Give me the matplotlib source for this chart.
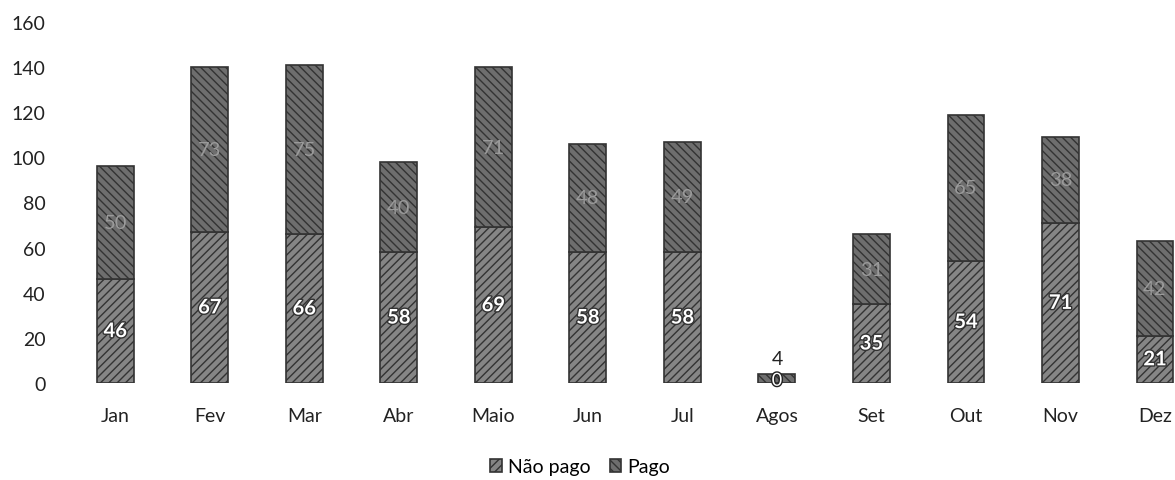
import matplotlib
matplotlib.use("Agg")
import matplotlib.pyplot as plt
import matplotlib.patheffects as pe
import numpy as np

months = ["Jan", "Fev", "Mar", "Abr", "Maio", "Jun", "Jul", "Agos", "Set", "Out", "Nov", "Dez"]
nao_pago = [46, 67, 66, 58, 69, 58, 58, 0, 35, 54, 71, 21]
pago = [50, 73, 75, 40, 71, 48, 49, 4, 31, 65, 38, 42]
yticks = [0, 20, 40, 60, 80, 100, 120, 140, 160]

plt.rcParams['font.family'] = ['Lato', 'DejaVu Sans']

fig = plt.figure(figsize=(11.75, 4.81), dpi=100)
ax = fig.add_axes([68/1175, 97/481, (1175-68)/1175, 361/481])

x = np.arange(len(months))
w = 0.39
c_np = "#858585"
c_p = "#6e6e6e"
b1 = ax.bar(x, nao_pago, w, color=c_np, edgecolor="#333333", linewidth=1.2,
            hatch="////", label="Não pago")
b2 = ax.bar(x, pago, w, bottom=nao_pago, color=c_p, edgecolor="#333333", linewidth=1.2,
            hatch="\\\\\\\\", label="Pago")

for i in range(len(months)):
    if months[i] == "Agos":
        ax.text(x[i], nao_pago[i] + pago[i] + 7, str(pago[i]), ha="center", va="center",
                fontsize=14, color="#222222")
        ax.text(x[i], 1, str(nao_pago[i]), ha="center", va="center", fontsize=13,
                color="white", path_effects=[pe.withStroke(linewidth=2, foreground="#222222")])
        continue
    ax.text(x[i], nao_pago[i] / 2, str(nao_pago[i]), ha="center", va="center",
            fontsize=14.5, color="white", fontweight="bold",
            path_effects=[pe.withStroke(linewidth=2, foreground="#333333")])
    ax.text(x[i], nao_pago[i] + pago[i] / 2, str(pago[i]), ha="center", va="center",
            fontsize=14.5, color="#9a9a9a")

ax.set_xlim(-0.5, 11 + 20/94.5)
ax.set_ylim(0, 160)
ax.set_yticks(yticks)
ax.set_xticks(x)
ax.set_xticklabels(months)
ax.tick_params(axis="both", length=0, labelsize=14, colors="#222222")
ax.tick_params(axis="x", pad=17)
ax.tick_params(axis="y", pad=16)
for s in ax.spines.values():
    s.set_visible(False)

fig.legend(handles=[b1, b2], labels=["Não pago", "Pago"], loc="center",
           bbox_to_anchor=(580/1175, 1 - 468/481), ncol=2, frameon=False,
           fontsize=14, handlelength=0.6, handleheight=0.6, handletextpad=0.3,
           columnspacing=1.0)

fig.savefig("out.png", dpi=100)
